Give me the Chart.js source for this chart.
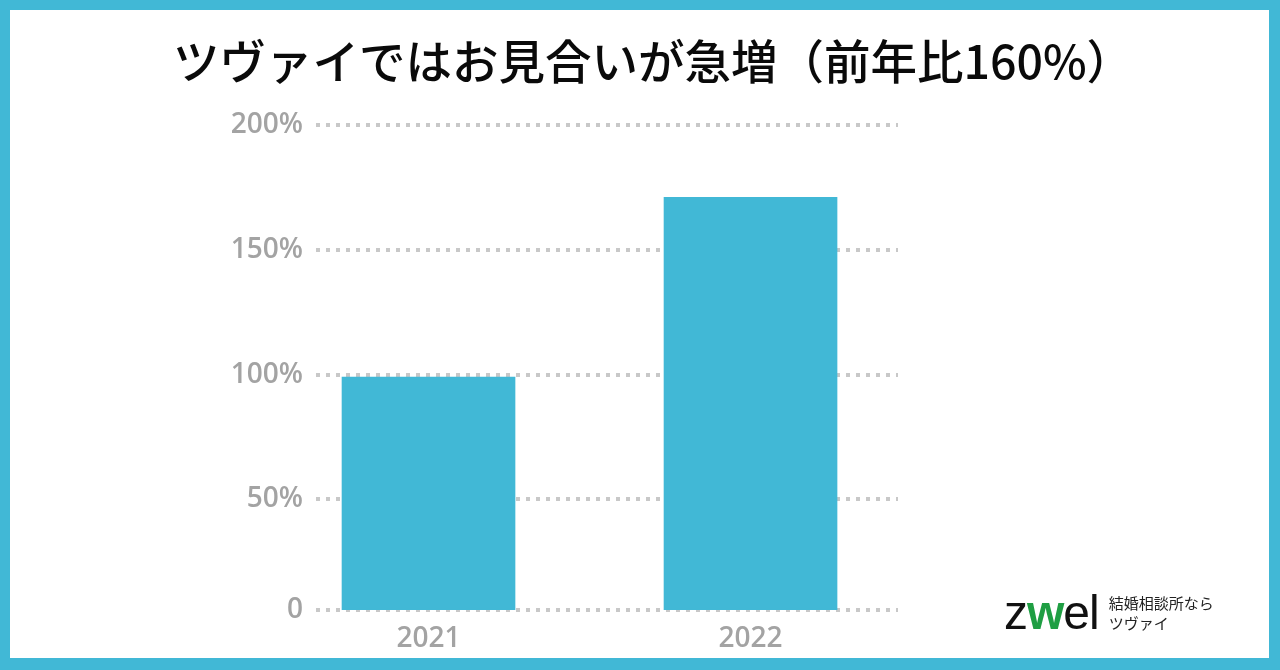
<!DOCTYPE html>
<html lang="ja">
<head>
<meta charset="utf-8">
<script src="https://cdn.jsdelivr.net/npm/chart.js@4.4.1/dist/chart.umd.min.js"></script>
<style>
  html, body { margin: 0; padding: 0; }
  body { width: 1280px; height: 670px; position: relative; overflow: hidden; background: #ffffff; }
  #frame { position: absolute; left: 0; top: 0; width: 1280px; height: 670px; box-sizing: border-box;
           border-style: solid; border-color: #41b8d6; border-width: 10px 11px 12px 10px; pointer-events: none; z-index: 3; }
  #title { position: absolute; left: 13px; width: 1280px; top: 28px; text-align: center;
           font-family: "Noto Sans CJK JP", "Noto Sans", sans-serif; font-weight: 500; font-size: 46.5px; line-height: 62px; color: #0a0a0a; }
  #wrap { position: absolute; left: 0; top: 0; width: 1280px; height: 670px; }
  #logo { position: absolute; left: 1004px; top: 588px; display: flex; align-items: center; }
  #logo .mark { font-family: "Liberation Sans", Arial, sans-serif; font-size: 48px; color: #111; letter-spacing: -1px; line-height: 50px; }
  #logo .mark .w { color: #1f9e43; font-weight: bold; }
  #logo .sub { margin-left: 10px; font-family: "Noto Sans CJK JP", sans-serif; font-size: 15px; line-height: 20px; color: #222; }
</style>
</head>
<body>
<div id="wrap"><canvas id="c" width="1280" height="670"></canvas></div>
<div id="title">ツヴァイではお見合いが急増（前年比160%）</div>
<div id="logo"><div class="mark">z<span class="w">w</span>el</div><div class="sub">結婚相談所なら<br>ツヴァイ</div></div>
<div id="frame"></div>
<script>
// ---- data ----
const categories = [2021, 2022];
const xTickLabels = ['2021', '2022'];
const seriesValues = [99, 171];
const yTickValues = [0, 50, 100, 150, 200];
const yTickLabels = ['0', '50%', '100%', '150%', '200%'];
const axisFloor = 5.74;                  // the picture draws its "0" baseline slightly above true zero
const yMax = 200;
const xMin = 2020.6506, xMax = 2022.458;

const barColor = '#41b8d6';
const tickFont = { family: '"Open Sans", "Noto Sans", sans-serif', size: 28, weight: '600' };
const tickColor = '#a3a3a3';

new Chart(document.getElementById('c'), {
  type: 'bar',
  data: {
    datasets: [{
      data: categories.map((c, i) => ({ x: c, y: seriesValues[i] })),
      backgroundColor: barColor,
      borderWidth: 0,
      barThickness: 173
    }]
  },
  options: {
    responsive: false,
    animation: false,
    events: [],
    layout: { padding: { left: 220, right: 382, top: 125, bottom: 0 } },
    plugins: { legend: { display: false }, tooltip: { enabled: false }, title: { display: false } },
    scales: {
      x: {
        type: 'linear',
        min: xMin, max: xMax,
        offset: false,
        grid: { display: false, drawTicks: false },
        border: { display: false },
        afterBuildTicks: (s) => { s.ticks = categories.map(v => ({ value: v })); },
        afterFit: (s) => { s.height = 60; },
        ticks: {
          padding: 12,
          font: tickFont, color: tickColor,
          maxRotation: 0, autoSkip: false,
          callback: (v, i) => xTickLabels[i]
        }
      },
      y: {
        min: axisFloor, max: yMax,
        grid: { color: '#c8c8c8', lineWidth: 4, drawTicks: false },
        border: { display: false, dash: [4, 6] },
        afterBuildTicks: (s) => { s.ticks = yTickValues.map(v => ({ value: v === 0 ? axisFloor : v })); },
        afterFit: (s) => { s.width = 96; },
        ticks: {
          padding: 13,
          font: tickFont, color: tickColor,
          autoSkip: false,
          callback: (v, i) => yTickLabels[i]
        }
      }
    }
  }
});
</script>
</body>
</html>
